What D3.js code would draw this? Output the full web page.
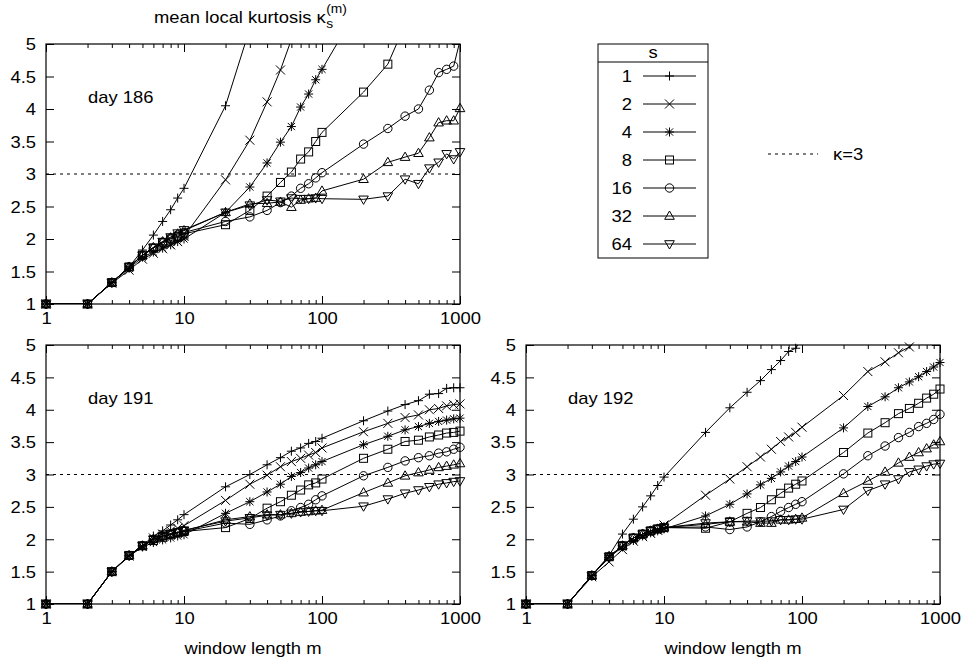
<!DOCTYPE html>
<html><head><meta charset="utf-8">
<script src="https://cdn.jsdelivr.net/npm/d3@7/dist/d3.min.js"></script>
<style>body{margin:0;background:#fff} svg{display:block}</style>
</head><body>
<svg id="c" width="963" height="664"></svg>
<script>
// ---------------- data ----------------
const mValues = [1,2,3,4,5,6,7,8,9,10,20,30,40,50,60,70,80,90,100,200,300,400,500,600,700,800,900,1000];
const sValues = [1,2,4,8,16,32,64];
const yTicks = [1,1.5,2,2.5,3,3.5,4,4.5,5];
const yTickLabels = ["1","1.5","2","2.5","3","3.5","4","4.5","5"];
const xTicks = [1,10,100,1000];
const xTickLabels = ["1","10","100","1000"];
const xMinorTicks = [2,3,4,5,6,7,8,9,20,30,40,50,60,70,80,90,200,300,400,500,600,700,800,900];
const dayNames = ["day 186","day 191","day 192"];
const refKappa = 3;

// day 186 (null = off the plotted range)
const d186_s1  = [1,1,1.33,1.57,1.83,2.06,2.27,2.45,2.63,2.78, 4.05,5.24,null,null,null,null,null,null,null, null,null,null,null,null,null,null,null,null];
const d186_s2  = [1,1,1.32,1.52,1.69,1.78,1.85,1.91,1.96,2.04, 2.91,3.52,4.11,4.60,5.07,null,null,null,null, null,null,null,null,null,null,null,null,null];
const d186_s4  = [1,1,1.33,1.55,1.72,1.80,1.86,1.91,1.96,2.00, 2.41,2.80,3.17,3.49,3.73,4.03,4.23,4.45,4.61, 5.70,null,null,null,null,null,null,null,null];
const d186_s8  = [1,1,1.33,1.57,1.75,1.86,1.94,2.00,2.04,2.08, 2.22,2.44,2.66,2.87,3.03,3.23,3.34,3.50,3.64, 4.26,4.69,5.30,null,null,null,null,null,null];
const d186_s16 = [1,1,1.33,1.57,1.75,1.86,1.95,2.01,2.06,2.10, 2.27,2.34,2.44,2.56,2.66,2.78,2.85,2.94,3.02, 3.46,3.70,3.89,4.00,4.29,4.56,4.61,4.66,5.05];
const d186_s32 = [1,1,1.33,1.57,1.75,1.87,1.96,2.02,2.08,2.13, 2.41,2.54,2.55,2.57,2.49,2.60,2.62,2.63,2.74, 2.92,3.18,3.26,3.32,3.56,3.79,3.82,3.82,4.01];
const d186_s64 = [1,1,1.33,1.57,1.75,1.87,1.96,2.03,2.09,2.14, 2.41,2.52,2.60,2.58,2.63,2.62,2.62,2.63,2.62, 2.61,2.66,2.92,2.85,3.09,3.18,3.31,3.23,3.34];

// day 191
const d191_s1  = [1,1,1.5,1.75,1.90,2.05,2.13,2.22,2.30,2.38, 2.81,3.00,3.15,3.26,3.36,3.41,3.48,3.51,3.56, 3.83,3.98,4.08,4.14,4.24,4.25,4.33,4.34,4.34];
const d191_s2  = [1,1,1.5,1.74,1.89,2.02,2.08,2.13,2.17,2.21, 2.60,2.85,2.99,3.12,3.20,3.25,3.30,3.34,3.41, 3.66,3.79,3.88,3.92,4.00,4.02,4.06,4.08,4.09];
const d191_s4  = [1,1,1.5,1.74,1.88,1.95,1.99,2.02,2.05,2.07, 2.40,2.58,2.73,2.85,2.97,3.03,3.10,3.15,3.20, 3.46,3.59,3.69,3.74,3.79,3.82,3.84,3.86,3.87];
const d191_s8  = [1,1,1.5,1.75,1.90,1.98,2.03,2.07,2.10,2.12, 2.18,2.32,2.48,2.58,2.68,2.76,2.84,2.87,2.93, 3.25,3.39,3.51,3.53,3.58,3.61,3.64,3.65,3.67];
const d191_s16 = [1,1,1.5,1.75,1.90,2.00,2.05,2.08,2.10,2.12, 2.25,2.23,2.30,2.36,2.44,2.49,2.54,2.61,2.67, 2.98,3.11,3.21,3.26,3.29,3.33,3.35,3.39,3.42];
const d191_s32 = [1,1,1.5,1.75,1.90,2.00,2.05,2.08,2.10,2.13, 2.30,2.35,2.38,2.38,2.40,2.42,2.43,2.44,2.45, 2.72,2.87,2.98,3.03,3.07,3.11,3.13,3.15,3.17];
const d191_s64 = [1,1,1.5,1.75,1.90,2.00,2.05,2.09,2.11,2.14, 2.28,2.33,2.37,2.38,2.40,2.42,2.43,2.44,2.44, 2.51,2.62,2.71,2.76,2.81,2.85,2.87,2.89,2.90];

// day 192
const d192_s1  = [1,1,1.44,1.75,2.08,2.31,2.50,2.67,2.83,2.96, 3.65,4.03,4.27,4.45,4.62,4.76,4.90,4.95,5.10, null,null,null,null,null,null,null,null,null];
const d192_s2  = [1,1,1.42,1.65,1.84,1.97,2.04,2.09,2.14,2.22, 2.68,2.93,3.12,3.27,3.39,3.51,3.58,3.65,3.73, 4.22,4.59,4.74,4.88,4.97,5.08,null,null,null];
const d192_s4  = [1,1,1.44,1.72,1.88,1.98,2.05,2.10,2.13,2.16, 2.36,2.54,2.70,2.84,2.94,3.04,3.13,3.20,3.27, 3.72,4.05,4.20,4.34,4.43,4.51,4.59,4.66,4.73];
const d192_s8  = [1,1,1.44,1.73,1.90,2.02,2.08,2.13,2.16,2.18, 2.17,2.27,2.40,2.49,2.61,2.71,2.79,2.85,2.90, 3.34,3.64,3.80,3.94,4.02,4.10,4.18,4.24,4.32];
const d192_s16 = [1,1,1.44,1.73,1.90,2.02,2.08,2.13,2.16,2.18, 2.19,2.15,2.19,2.27,2.35,2.43,2.49,2.54,2.58, 3.01,3.29,3.44,3.57,3.65,3.74,3.79,3.85,3.93];
const d192_s32 = [1,1,1.44,1.73,1.90,2.02,2.08,2.13,2.16,2.18, 2.23,2.27,2.27,2.25,2.25,2.30,2.30,2.31,2.33, 2.71,2.90,3.04,3.18,3.27,3.34,3.40,3.46,3.51];
const d192_s64 = [1,1,1.44,1.73,1.90,2.02,2.08,2.13,2.16,2.18, 2.25,2.27,2.28,2.28,2.28,2.30,2.30,2.31,2.31, 2.46,2.75,2.85,2.93,3.04,3.08,3.13,3.16,3.17];

const day186 = [d186_s1,d186_s2,d186_s4,d186_s8,d186_s16,d186_s32,d186_s64];
const day191 = [d191_s1,d191_s2,d191_s4,d191_s8,d191_s16,d191_s32,d191_s64];
const day192 = [d192_s1,d192_s2,d192_s4,d192_s8,d192_s16,d192_s32,d192_s64];

// ---------------- drawing ----------------
const svg = d3.select("#c");
const FONT = "'Liberation Sans', Arial, Helvetica, sans-serif";
const SX = 1.15;
const FS = 16;

function label(g, x, y, str, anchor, size) {
  return g.append("text")
    .attr("transform", `translate(${x},${y}) scale(${SX},1)`)
    .attr("text-anchor", anchor || "start")
    .attr("font-family", FONT)
    .attr("font-size", size || FS)
    .attr("fill", "#000")
    .text(str);
}

const markerTypes = ["plus","cross","star","square","circle","tri","itri"];
function marker(g, type, cx, cy) {
  const mg = g.append("g").attr("transform", `translate(${cx},${cy})`)
    .attr("fill", "none").attr("stroke", "#000").attr("stroke-width", 1);
  const r = 4.5;
  if (type === "plus") mg.append("path").attr("d", `M${-r},0H${r}M0,${-r}V${r}`);
  else if (type === "cross") mg.append("path").attr("d", `M${-r},${-r}L${r},${r}M${-r},${r}L${r},${-r}`);
  else if (type === "star") mg.append("path").attr("d", `M${-r},0H${r}M0,${-r}V${r}M${-r*0.8},${-r*0.8}L${r*0.8},${r*0.8}M${-r*0.8},${r*0.8}L${r*0.8},${-r*0.8}`);
  else if (type === "square") mg.append("rect").attr("x", -4).attr("y", -4).attr("width", 8).attr("height", 8);
  else if (type === "circle") mg.append("circle").attr("r", 4.2);
  else if (type === "tri") mg.append("path").attr("d", "M0,-5L4.8,3.3L-4.8,3.3Z");
  else if (type === "itri") mg.append("path").attr("d", "M0,5L4.8,-3.3L-4.8,-3.3Z");
}

const panels = [
  {name: dayNames[0], data: day186, left: 46, top: 44, right: 460, bottom: 304, xTitle: false},
  {name: dayNames[1], data: day191, left: 46, top: 345, right: 460, bottom: 604, xTitle: true},
  {name: dayNames[2], data: day192, left: 526, top: 345, right: 940, bottom: 604, xTitle: true}
];

panels.forEach((p, pi) => {
  const W = p.right - p.left, H = p.bottom - p.top;
  const x = d3.scaleLog().domain([1, 1000]).range([0, W]);
  const y = d3.scaleLinear().domain([1, 5]).range([H, 0]);
  const g = svg.append("g").attr("transform", `translate(${p.left},${p.top})`);

  const clipId = "clip" + pi;
  g.append("clipPath").attr("id", clipId).append("rect").attr("width", W).attr("height", H);

  // axes (ticks inward, mirrored)
  const styleAxis = sel => {
    sel.select(".domain").remove();
    sel.selectAll("line").attr("stroke", "#000").attr("stroke-width", 1);
    sel.attr("font-family", null).attr("font-size", null);
  };
  const yl = g.append("g").call(d3.axisLeft(y).tickValues(yTicks).tickFormat((d, i) => yTickLabels[i]).tickSizeInner(-8).tickSizeOuter(0).tickPadding(10));
  styleAxis(yl);
  yl.selectAll("text").each(function() {
    const t = d3.select(this);
    const tx = +t.attr("x");
    t.attr("x", 0).attr("dy", "0.36em")
     .attr("transform", `translate(${tx},0) scale(${SX},1)`)
     .attr("font-family", FONT).attr("font-size", FS).attr("fill", "#000");
  });
  const yr = g.append("g").attr("transform", `translate(${W},0)`)
    .call(d3.axisRight(y).tickValues(yTicks).tickFormat("").tickSizeInner(-8).tickSizeOuter(0));
  styleAxis(yr);

  const xb = g.append("g").attr("transform", `translate(0,${H})`)
    .call(d3.axisBottom(x).tickValues(xTicks).tickFormat((d, i) => xTickLabels[i]).tickSizeInner(-8).tickSizeOuter(0).tickPadding(9));
  styleAxis(xb);
  xb.selectAll("text").each(function() {
    const t = d3.select(this);
    const ty = +t.attr("y");
    t.attr("y", 0).attr("dy", "0.71em")
     .attr("transform", `translate(0,${ty}) scale(${SX},1)`)
     .attr("font-family", FONT).attr("font-size", FS).attr("fill", "#000");
  });
  const xbm = g.append("g").attr("transform", `translate(0,${H})`)
    .call(d3.axisBottom(x).tickValues(xMinorTicks).tickFormat("").tickSizeInner(-4).tickSizeOuter(0));
  styleAxis(xbm);
  const xt = g.append("g").call(d3.axisTop(x).tickValues(xTicks).tickFormat("").tickSizeInner(-8).tickSizeOuter(0));
  styleAxis(xt);
  const xtm = g.append("g").call(d3.axisTop(x).tickValues(xMinorTicks).tickFormat("").tickSizeInner(-4).tickSizeOuter(0));
  styleAxis(xtm);

  // reference line kappa = 3
  g.append("line").attr("x1", 0).attr("x2", W).attr("y1", y(refKappa)).attr("y2", y(refKappa))
    .attr("stroke", "#000").attr("stroke-width", 1).attr("stroke-dasharray", "3,4");

  // series lines
  const line = d3.line().defined(d => d.v !== null).x(d => x(d.m)).y(d => y(d.v));
  const lg = g.append("g").attr("clip-path", `url(#${clipId})`);
  p.data.forEach((vals, si) => {
    const pts = mValues.map((m, i) => ({m, v: vals[i]}));
    lg.append("path").datum(pts).attr("d", line)
      .attr("fill", "none").attr("stroke", "#000").attr("stroke-width", 1);
  });
  // markers (only those inside the y range)
  const mkG = g.append("g");
  p.data.forEach((vals, si) => {
    mValues.forEach((m, i) => {
      const v = vals[i];
      if (v === null || v > 5 || v < 1) return;
      marker(mkG, markerTypes[si], x(m), y(v));
    });
  });

  // frame
  g.append("rect").attr("width", W).attr("height", H).attr("fill", "none").attr("stroke", "#000").attr("stroke-width", 1.2);

  // day label
  label(g, 42, 59, p.name, "start");

  if (p.xTitle) label(g, W / 2 + 0, H + 50, "window length m", "middle");
});

// title
const t1 = label(svg, 154, 23, "mean local kurtosis κ", "start");
const tEnd = 154 + t1.node().getComputedTextLength() * SX;
label(svg, tEnd + 0.5, 27.5, "s", "start", 12);
label(svg, tEnd + 0.5, 13, "(m)", "start", 12);

// legend box
const lgd = svg.append("g");
lgd.append("rect").attr("x", 598).attr("y", 44).attr("width", 110).attr("height", 214)
  .attr("fill", "#fff").attr("stroke", "#000").attr("stroke-width", 1);
lgd.append("line").attr("x1", 598).attr("x2", 708).attr("y1", 62).attr("y2", 62).attr("stroke", "#000").attr("stroke-width", 1);
label(lgd, 653, 58, "s", "middle");
sValues.forEach((s, i) => {
  const yy = 76 + 28 * i;
  label(lgd, 632, yy + 6, String(s), "end");
  lgd.append("line").attr("x1", 643).attr("x2", 696).attr("y1", yy).attr("y2", yy).attr("stroke", "#000").attr("stroke-width", 1);
  marker(lgd, markerTypes[i], 669.5, yy);
});
// kappa=3 legend
lgd.append("line").attr("x1", 768).attr("x2", 818).attr("y1", 154).attr("y2", 154)
  .attr("stroke", "#000").attr("stroke-width", 1).attr("stroke-dasharray", "3,4");
label(lgd, 833, 160, "κ=" + refKappa, "start");
</script>
</body></html>
